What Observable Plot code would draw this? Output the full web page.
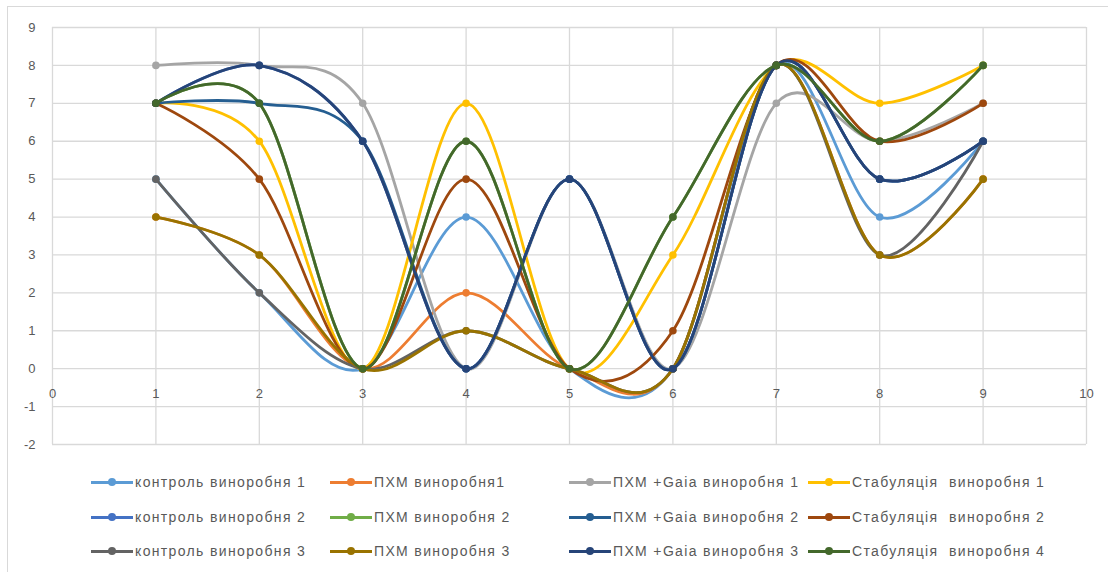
<!DOCTYPE html>
<html>
<head>
<meta charset="utf-8">
<script src="https://cdn.jsdelivr.net/npm/d3@7"></script>
<script src="https://cdn.jsdelivr.net/npm/@observablehq/plot@0.6"></script>
<style>
  html, body { margin: 0; padding: 0; background: #fff; }
  body { width: 1108px; height: 572px; overflow: hidden; position: relative; font-family: "Liberation Sans", "DejaVu Sans", sans-serif; }
  #frame { position: absolute; left: 7px; top: 6px; width: 1120px; height: 600px; border: 1px solid #d9d9d9; box-sizing: border-box; }
  #chart { position: absolute; left: 0; top: 0; }
  #legend { position: absolute; left: 91px; top: 465px; display: grid; grid-template-columns: 239px 239px 239px 239px; row-gap: 0; }
  .item { display: flex; align-items: center; height: 34.5px; font-size: 14px; letter-spacing: 1.35px; color: #595959; white-space: pre; }
  .sw { position: relative; width: 42px; height: 10px; margin-right: 2px; flex: none; }
  .sw .ln { position: absolute; left: 0; right: 0; top: 4px; height: 3px; }
  .sw .dt { position: absolute; left: 17px; top: 1px; width: 8px; height: 8px; border-radius: 50%; }
</style>
</head>
<body>
<div id="frame"></div>
<div id="chart"></div>
<div id="legend"></div>
<script>
const xValues = [1, 2, 3, 4, 5, 6, 7, 8, 9];
const xTicks = [0, 1, 2, 3, 4, 5, 6, 7, 8, 9, 10];
const yTicks = [-2, -1, 0, 1, 2, 3, 4, 5, 6, 7, 8, 9];

const seriesNames = [
  "контроль виноробня 1", "ПХМ виноробня1", "ПХМ +Gaia виноробня 1", "Стабуляція  виноробня 1",
  "контроль виноробня 2", "ПХМ виноробня 2", "ПХМ +Gaia виноробня 2", "Стабуляція  виноробня 2",
  "контроль виноробня 3", "ПХМ виноробня 3", "ПХМ +Gaia виноробня 3", "Стабуляція  виноробня 4"
];
const seriesColors = [
  "#5B9BD5", "#ED7D31", "#A5A5A5", "#FFC000",
  "#4472C4", "#70AD47", "#255E91", "#9E480E",
  "#636363", "#997300", "#264478", "#43682B"
];

const kontrol1 = [5, 2, 0, 4, 0, 0, 8, 4, 6];
const pxm1     = [4, 3, 0, 2, 0, 0, 8, 3, 5];
const gaia1    = [8, 8, 7, 0, 5, 0, 7, 6, 7];
const stab1    = [7, 6, 0, 7, 0, 3, 8, 7, 8];
const kontrol2 = [7, 8, 6, 0, 5, 0, 8, 5, 6];
const pxm2     = [7, 7, 0, 6, 0, 4, 8, 6, 8];
const gaia2    = [7, 7, 6, 0, 5, 0, 8, 5, 6];
const stab2    = [7, 5, 0, 5, 0, 1, 8, 6, 7];
const kontrol3 = [5, 2, 0, 1, 0, 0, 8, 3, 6];
const pxm3     = [4, 3, 0, 1, 0, 0, 8, 3, 5];
const gaia3    = [7, 8, 6, 0, 5, 0, 8, 5, 6];
const stab4    = [7, 7, 0, 6, 0, 4, 8, 6, 8];

const seriesValues = [kontrol1, pxm1, gaia1, stab1, kontrol2, pxm2, gaia2, stab2, kontrol3, pxm3, gaia3, stab4];

const seriesData = seriesNames.map((name, i) =>
  xValues.map((x, j) => ({series: name, x, y: seriesValues[i][j]}))
);

const marks = [
  Plot.gridX(xTicks, {stroke: "#d9d9d9", strokeOpacity: 1, strokeWidth: 1.3}),
  Plot.gridY(yTicks, {stroke: "#d9d9d9", strokeOpacity: 1, strokeWidth: 1.3}),
  Plot.axisY(yTicks, {tickSize: 0, tickPadding: 17, fontSize: 13, fill: "#595959", label: null, tickFormat: d => String(d)}),
  Plot.text(xTicks, {x: d => d, y: 0, dy: 25, text: d => String(d), fontSize: 13, fill: "#595959"})
];
seriesData.forEach((d, i) => {
  marks.push(Plot.line(d, {x: "x", y: "y", stroke: seriesColors[i], strokeWidth: 2.8, curve: "cardinal"}));
  marks.push(Plot.dot(d, {x: "x", y: "y", fill: seriesColors[i], r: 3.8, stroke: "none"}));
});

const chart = Plot.plot({
  width: 1108,
  height: 456,
  marginLeft: 52,
  marginRight: 22,
  marginTop: 27,
  marginBottom: 12,
  x: {domain: [0, 10], axis: null},
  y: {domain: [-2, 9], axis: null},
  style: {background: "transparent", fontFamily: "Liberation Sans, DejaVu Sans, sans-serif"},
  marks
});
document.getElementById("chart").appendChild(chart);

const legend = document.getElementById("legend");
seriesNames.forEach((name, i) => {
  const it = document.createElement("div");
  it.className = "item";
  it.innerHTML = `<span class="sw"><span class="ln" style="background:${seriesColors[i]}"></span><span class="dt" style="background:${seriesColors[i]}"></span></span><span>${name}</span>`;
  legend.appendChild(it);
});
</script>
</body>
</html>
